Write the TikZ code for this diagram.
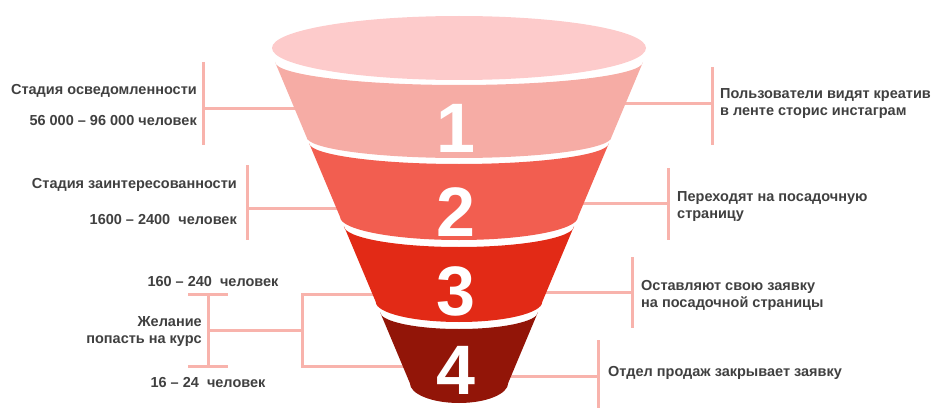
\documentclass[tikz,border=0pt]{standalone}
\usepackage{fontspec}
\setmainfont{Liberation Sans}
\usetikzlibrary{positioning}

\definecolor{topC}{HTML}{FDCBCB}
\definecolor{bandA}{HTML}{F6ACA5}
\definecolor{bandB}{HTML}{F25E50}
\definecolor{bandC}{HTML}{E22A16}
\definecolor{bandD}{HTML}{921508}
\definecolor{lineC}{HTML}{F8B3AC}
\definecolor{textC}{HTML}{404040}

\tikzset{
  conn/.style={draw=lineC, line width=3pt},
  lbl/.style={font=\bfseries\fontsize{14.5}{17}\selectfont, text=textC, inner sep=0pt},
  num/.style={font=\bfseries\fontsize{70}{70}\selectfont, text=white, inner sep=0pt}
}

\begin{document}
\begin{tikzpicture}[x=1pt,y=1pt]
  \useasboundingbox (0,0) rectangle (932,408);

  % left side: bars and links into the funnel
  \coordinate (s1t) at (203,346); \coordinate (s1b) at (203,263);
  \coordinate (s1j) at (203,300); \coordinate (s1f) at (298,300);
  \coordinate (s2t) at (247,243); \coordinate (s2b) at (247,168);
  \coordinate (s2j) at (247,200); \coordinate (s2f) at (341,200);
  \draw[conn] (s1t) -- (s1b) (s1j) -- (s1f);
  \draw[conn] (s2t) -- (s2b) (s2j) -- (s2f);

  % bracket for stages 3 and 4
  \coordinate (ibTl) at (188,114); \coordinate (ibTr) at (228,114);
  \coordinate (ibBl) at (188,42);  \coordinate (ibBr) at (228,42);
  \coordinate (ibT) at (208,114);  \coordinate (ibB) at (208,42);
  \coordinate (ibM) at (208,78);   \coordinate (brM) at (302,78);
  \coordinate (brT) at (302,114);  \coordinate (brB) at (302,42);
  \coordinate (s3f) at (377,114);  \coordinate (s4f) at (407,42);
  \draw[conn] (ibTl) -- (ibTr) (ibBl) -- (ibBr) (ibT) -- (ibB) (ibM) -- (brM);
  \draw[conn] (s3f) -- (brT) -- (brB) -- (s4f);

  % right side
  \coordinate (r1t) at (712,341); \coordinate (r1b) at (712,263);
  \coordinate (r1j) at (712,305); \coordinate (r1f) at (620,305);
  \coordinate (r2t) at (668,240); \coordinate (r2b) at (668,168);
  \coordinate (r2j) at (668,205); \coordinate (r2f) at (578,205);
  \coordinate (r3t) at (632,151); \coordinate (r3b) at (632,80);
  \coordinate (r3j) at (632,116); \coordinate (r3f) at (542,116);
  \coordinate (r4t) at (598,68);  \coordinate (r4b) at (598,0);
  \coordinate (r4j) at (598,32);  \coordinate (r4f) at (505,32);
  \foreach \i in {1,...,4}
    \draw[conn] (r\i t) -- (r\i b) (r\i j) -- (r\i f);

  % funnel
  \fill[topC] (459,360) ellipse [x radius=187, y radius=32];
  \foreach \yt/\dt/\yb/\db/\col/\ny/\n in {62/23/137/21/bandA/280/1,
      143/21/217/23/bandB/196/2, 226/21/302/20/bandC/117/3,
      312/17/383/20/bandD/38/4}{
    \pgfmathsetmacro\wt{184-0.42*(\yt-62)}
    \pgfmathsetmacro\wb{184-0.42*(\yb-62)}
    \fill[\col] ({459-\wt},{408-\yt}) -- ({459-\wb},{408-\yb})
      arc[start angle=180, end angle=360, x radius=\wb, y radius=\db]
      -- ({459+\wt},{408-\yt})
      arc[start angle=0, end angle=-180, x radius=\wt, y radius=\dt] -- cycle;
    \node[num] (n\n) at (456,\ny) {\n};
  }

  % texts
  \node[lbl, anchor=east] (aware) at (197,317) {Стадия осведомленности};
  \node[lbl, anchor=east] (awareN) at (197,287) {56 000 – 96 000 человек};
  \node[lbl, anchor=east] (interest) at (237,223) {Стадия заинтересованности};
  \node[lbl, anchor=east] (interestN) at (237,188) {1600 – 2400~ человек};
  \node[lbl] (wishN) at (213,126) {160 – 240~ человек};
  \node[lbl, align=right, anchor=east] (wish) at (202,76.5) {Желание\\попасть на курс};
  \node[lbl] (saleN) at (208,25) {16 – 24~ человек};

  \node[lbl, align=left, anchor=west] (see) at (720,304) {Пользователи видят креатив\\в ленте сторис инстаграм};
  \node[lbl, align=left, anchor=west] (visit) at (677,201) {Переходят на посадочную\\страницу};
  \node[lbl, align=left, anchor=west] (apply) at (641,112.5) {Оставляют свою заявку\\на посадочной страницы};
  \node[lbl, anchor=west] (close) at (608,35) {Отдел продаж закрывает заявку};
\end{tikzpicture}
\end{document}
